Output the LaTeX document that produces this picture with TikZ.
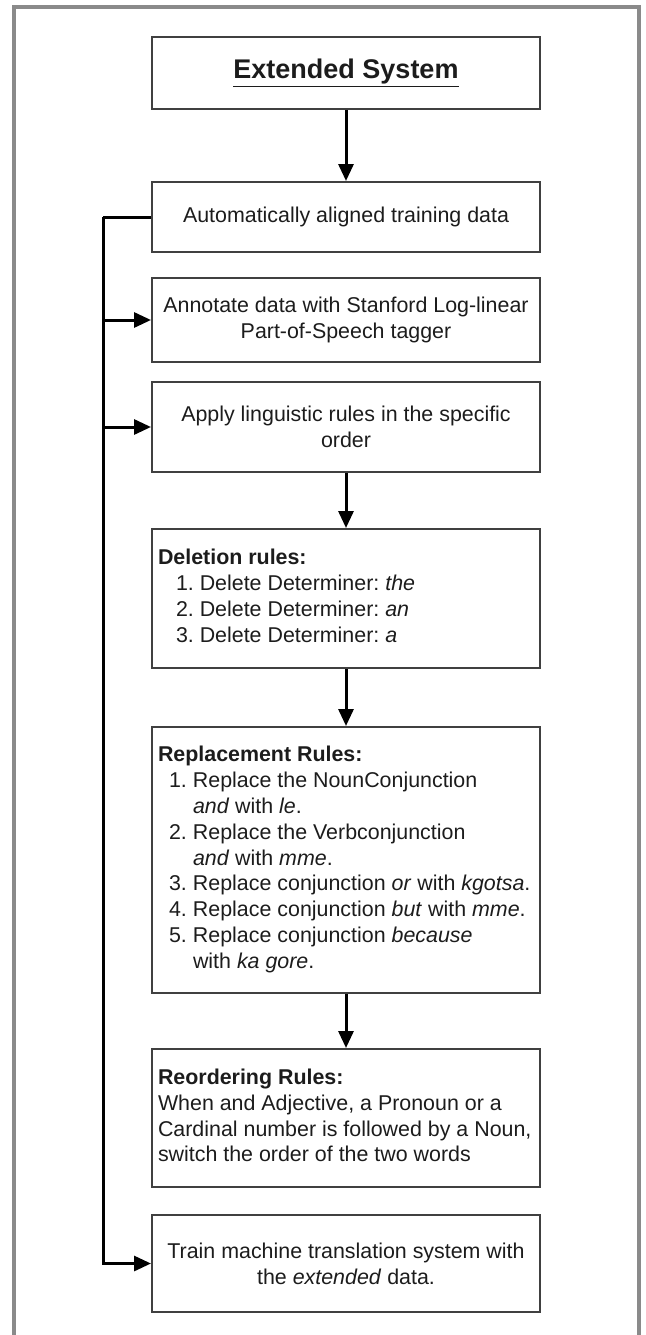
\documentclass[tikz,border=0pt]{standalone}
\usepackage{fontspec}
\setmainfont{Liberation Sans}
\usetikzlibrary{arrows.meta}
\definecolor{boxgray}{HTML}{404040}
\definecolor{framegray}{HTML}{8A8A8A}
\definecolor{textgray}{HTML}{1C1C1C}
% left-aligned block of lines, set to the inner width of a box
\newcommand{\leftblock}[1]{\makebox[376pt][l]{\begin{tabular}{@{}l@{}}#1\end{tabular}}}
\newcommand{\itemno}[1]{\hspace*{11pt}\makebox[24pt][l]{#1}}
\newcommand{\itemcont}{\hspace*{35pt}}
\begin{document}
\frenchspacing
\begin{tikzpicture}[x=1pt,y=-1pt,
  box/.style={draw=boxgray, line width=2pt, minimum width=388pt, inner xsep=6pt,
    inner ysep=0pt, text=textgray, font=\fontsize{21.4}{25.8}\selectfont\frenchspacing},
  ctext/.style={box, align=center},
  ltext/.style={box},
  flow/.style={line width=3pt, -{Triangle[length=17pt,width=15pt]}},
  bus/.style={line width=3pt}
]
\useasboundingbox (0,0) rectangle (645,1335);
% outer frame
\draw[framegray, line width=4pt] (14,1345) -- (14,7) -- (639,7) -- (639,1345);

% process boxes
\node[ctext, minimum height=72pt] (b1) at (346,73)
  {\fontsize{27}{32}\selectfont\bfseries\underline{Extended System}};
\node[ctext, minimum height=70pt] (b2) at (346,217)
  {Automatically aligned training data};
\node[ctext, minimum height=84pt] (b3) at (346,320)
  {Annotate data with Stanford Log-linear\\Part-of-Speech tagger};
\node[ctext, minimum height=90pt] (b4) at (346,427)
  {Apply linguistic rules in the specific\\order};
\node[ltext, minimum height=139pt] (b5) at (346,598.5)
  {\leftblock{\textbf{Deletion rules:}\\
   \hspace*{18pt}1. Delete Determiner: \textit{the}\\
   \hspace*{18pt}2. Delete Determiner: \textit{an}\\
   \hspace*{18pt}3. Delete Determiner: \textit{a}}};
\node[ltext, minimum height=266pt] (b6) at (346,860)
  {\leftblock{\textbf{Replacement Rules:}\\
   \itemno{1.}Replace the NounConjunction\\
   \itemcont\textit{and} with \textit{le}.\\
   \itemno{2.}Replace the Verbconjunction\\
   \itemcont\textit{and} with \textit{mme}.\\
   \itemno{3.}Replace conjunction \textit{or} with \textit{kgotsa}.\\
   \itemno{4.}Replace conjunction \textit{but} with \textit{mme}.\\
   \itemno{5.}Replace conjunction \textit{because}\\
   \itemcont with \textit{ka gore}.}};
\node[ltext, minimum height=138pt] (b7) at (346,1118)
  {\leftblock{\textbf{Reordering Rules:}\\
   When and Adjective, a Pronoun or a\\
   Cardinal number is followed by a Noun,\\
   switch the order of the two words}};
\node[ctext, minimum height=97pt] (b8) at (346,1263.5)
  {Train machine translation system with\\the \textit{extended} data.};

% main flow
\draw[flow] (b1) -- (b2);
\draw[flow] (b4) -- (b5);
\draw[flow] (b5) -- (b6);
\draw[flow] (b6) -- (b7);

% side bus feeding the training data onward
\draw[bus] (b2.west) -- ++(-48,0) coordinate (busTop);
\draw[flow] (busTop) |- (b8.west);
\draw[flow] (busTop |- b3.west) -- (b3.west);
\draw[flow] (busTop |- b4.west) -- (b4.west);
\end{tikzpicture}
\end{document}
